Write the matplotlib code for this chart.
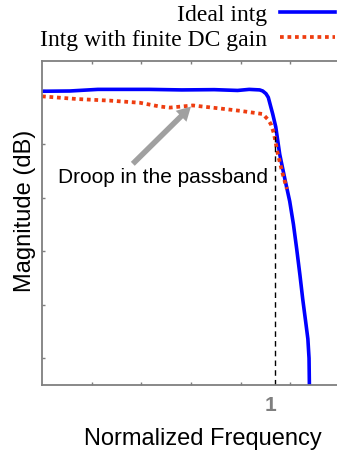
import numpy as np
import matplotlib
matplotlib.use('Agg')
import matplotlib.pyplot as plt

# curvas (frecuencia normalizada, magnitud en dB)
freq_ideal = [0, 0.12, 0.24, 0.46, 0.60, 0.74, 0.84, 0.89, 0.935, 0.948, 0.962,
              0.972, 0.983, 0.991, 1.004, 1.021, 1.043, 1.064, 1.080, 1.094, 1.108,
              1.120, 1.132, 1.142, 1.147, 1.150]
mag_ideal = [-0.15, -0.1, 0.2, 0.2, 0.1, 0.15, 0.0, 0.2, 0.1, -0.1, -0.6,
             -1.3, -3.1, -4.4, -6.8, -11.9, -16.5, -20.7, -25.0, -29.6, -34.5,
             -39.0, -43.0, -46.4, -50.0, -60]

freq_finite = [0, 0.150, 0.292, 0.421, 0.506, 0.549, 0.648, 0.751, 0.850, 0.948,
               0.970, 0.983, 0.996, 1.013, 1.034, 1.052]
mag_finite = [-1.1, -1.6, -1.9, -2.3, -3.0, -3.2, -2.8, -3.3, -3.8, -4.4,
              -5.4, -6.3, -8.0, -11.9, -15.6, -18.4]

labels = ['Ideal intg', 'Intg with finite DC gain']
f_corte = 1
mag_corte = -7.5

xmax = 1.28
ymin, ymax = -55, 5.5
gris = '#7f7f7f'

fig = plt.figure(figsize=(3.37, 4.52), dpi=100)
ax = fig.add_axes([42/337, 66/452, 298/337, 324/452])

l1, = ax.plot(freq_ideal, mag_ideal, color='#0000ff', lw=2.6)
l2, = ax.plot(freq_finite, mag_finite, color='#ee3d10', lw=2.7, linestyle=(0, (1, 1)))
ax.vlines(f_corte, ymin, mag_corte, colors='k', lw=1, linestyles=(0, (4, 3)))

ax.annotate('', xy=(0.64, -3.0), xytext=(0.39, -13.7),
            arrowprops=dict(facecolor='#a0a0a0', edgecolor='none', width=4,
                            headwidth=11, headlength=10, shrink=0))
ax.text(0.069, -17.1, 'Droop in the passband', fontsize=15, family='Liberation Sans',
        va='baseline', ha='left')

ax.set_xlim(0, xmax)
ax.set_ylim(ymin, ymax)

ax.set_xticks([f_corte - 0.02])
ax.set_xticklabels(['1'], fontsize=15, fontweight='bold', color=gris, family='Liberation Sans')
ax.set_xticks(np.linspace(0, xmax, 7)[1:-1], minor=True)
ax.set_yticks(np.arange(-50, 1, 10))
ax.set_yticklabels([])
ax.tick_params(which='both', direction='in', top=True, right=True, color=gris,
               length=2.5, width=1)
ax.tick_params(axis='x', which='major', length=0, pad=7)
for s in ax.spines.values():
    s.set_color(gris)
    s.set_linewidth(1.3)

ax.set_xlabel('Normalized Frequency', fontsize=17, family='Liberation Sans')
ax.xaxis.set_label_coords((203 - 42)/298, -0.13)
ax.set_ylabel('Magnitude (dB)', fontsize=17, family='Liberation Sans')
ax.yaxis.set_label_coords(-0.02, 0.54)

fig.legend([l1, l2], labels, loc='upper right', bbox_to_anchor=(1.0, 0.995),
           frameon=False, markerfirst=False, handlelength=2.3, handletextpad=0.55,
           labelspacing=0.15, borderpad=0.1, borderaxespad=0,
           prop={'family': 'Liberation Serif', 'size': 17})

fig.savefig('out.png', dpi=100)
